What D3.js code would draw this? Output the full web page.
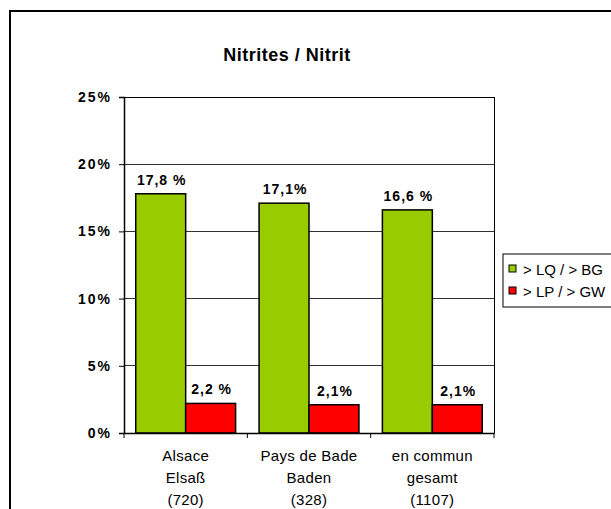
<!DOCTYPE html>
<html>
<head>
<meta charset="utf-8">
<script src="https://cdn.jsdelivr.net/npm/d3@7"></script>
<style>
  body { margin: 0; background: #fff; }
  svg { display: block; font-family: "Liberation Sans", Arial, sans-serif; }
</style>
</head>
<body>
<div id="chart"></div>
<script>
// chart data
const categories = ['Alsace', 'Pays de Bade', 'en commun'];
const categoryLines = [
  ['Alsace', 'Elsaß', '(720)'],
  ['Pays de Bade', 'Baden', '(328)'],
  ['en commun', 'gesamt', '(1107)']
];
const seriesNames = ['> LQ / > BG', '> LP / > GW'];
const seriesColors = ['#99cc00', '#ff0000'];
const lqValues = [17.8, 17.1, 16.6];
const lpValues = [2.2, 2.1, 2.1];
const labelsLq = ['17,8 %', '17,1%', '16,6 %'];
const labelsLp = ['2,2 %', '2,1%', '2,1%'];
const yTicks = [0, 5, 10, 15, 20, 25];

const W = 611, H = 509;
const plot = { left: 124, top: 97, right: 494, bottom: 433 };

const svg = d3.select('#chart').append('svg')
  .attr('width', W)
  .attr('height', H);

// outer frame (runs off the right/bottom edge)
svg.append('rect')
  .attr('x', 10).attr('y', 11)
  .attr('width', 700).attr('height', 600)
  .attr('fill', 'none')
  .attr('stroke', '#000')
  .attr('stroke-width', 2);

svg.append('text')
  .attr('x', 287).attr('y', 61)
  .attr('text-anchor', 'middle')
  .style('font-size', '18px')
  .style('font-weight', 'bold')
  .style('letter-spacing', '0.5px')
  .text('Nitrites / Nitrit');

const x = d3.scaleBand()
  .domain(categories)
  .range([plot.left, plot.right]);

const xSeries = d3.scaleBand()
  .domain([0, 1])
  .range([0, x.bandwidth()])
  .paddingOuter(0.235)
  .paddingInner(0);

const y = d3.scaleLinear()
  .domain([0, 25])
  .range([plot.bottom, plot.top]);

const g = svg.append('g');

// gridlines
g.selectAll('line.grid')
  .data(yTicks.filter(d => d > 0))
  .enter().append('line')
  .attr('x1', plot.left).attr('x2', plot.right)
  .attr('y1', d => y(d)).attr('y2', d => y(d))
  .attr('stroke', d => d === 25 ? '#000' : '#333')
  .attr('stroke-width', 1)
  .attr('shape-rendering', 'crispEdges');

// right border of plot
g.append('line')
  .attr('x1', plot.right).attr('x2', plot.right)
  .attr('y1', plot.top).attr('y2', plot.bottom)
  .attr('stroke', '#000')
  .attr('shape-rendering', 'crispEdges');

// bars
const series = [lqValues, lpValues];
const labels = [labelsLq, labelsLp];
series.forEach((vals, si) => {
  g.selectAll('rect.s' + si)
    .data(vals)
    .enter().append('rect')
    .attr('x', (d, i) => x(categories[i]) + xSeries(si))
    .attr('y', d => y(d))
    .attr('width', xSeries.bandwidth())
    .attr('height', d => y(0) - y(d))
    .attr('fill', seriesColors[si])
    .attr('stroke', '#000')
    .attr('stroke-width', 1.5);

  g.selectAll('text.l' + si)
    .data(vals)
    .enter().append('text')
    .attr('x', (d, i) => x(categories[i]) + xSeries(si) + xSeries.bandwidth() / 2 + 1)
    .attr('y', d => y(d) - 9)
    .attr('text-anchor', 'middle')
    .style('font-size', '14px')
    .style('font-weight', 'bold')
    .style('letter-spacing', '1px')
    .text((d, i) => labels[si][i]);
});

// y axis
const yAxis = svg.append('g')
  .attr('transform', `translate(${plot.left},0)`)
  .call(d3.axisLeft(y).tickValues(yTicks).tickSize(5).tickPadding(7).tickFormat(d => d + '%'));
yAxis.select('.domain').attr('stroke', '#000').attr('stroke-width', 1.5);
yAxis.selectAll('.tick line').attr('stroke', '#000');
yAxis.selectAll('.tick text')
  .attr('fill', '#000')
  .style('font-family', '"Liberation Sans", Arial, sans-serif')
  .style('font-size', '14px')
  .style('font-weight', 'bold')
  .style('letter-spacing', '2px');

// x axis
const xAxis = svg.append('g')
  .attr('transform', `translate(0,${plot.bottom})`)
  .call(d3.axisBottom(x).tickSize(0).tickFormat(''));
xAxis.select('.domain').attr('stroke', '#000').attr('stroke-width', 1.5);

// category separators below axis
svg.selectAll('line.xsep')
  .data([x(categories[0])].concat(categories.map(d => x(d) + x.bandwidth())))
  .enter().append('line')
  .attr('x1', d => d)
  .attr('x2', d => d)
  .attr('y1', plot.bottom)
  .attr('y2', plot.bottom + 5)
  .attr('stroke', '#000');

// multi-line category labels
categoryLines.forEach((lines, i) => {
  const t = svg.append('text')
    .attr('text-anchor', 'middle')
    .style('font-size', '15px')
    .style('letter-spacing', '0.3px');
  lines.forEach((ln, k) => {
    t.append('tspan')
      .attr('x', x(categories[i]) + x.bandwidth() / 2)
      .attr('y', 461 + k * 22)
      .text(ln);
  });
});

// legend
const legend = svg.append('g');
legend.append('rect')
  .attr('x', 503).attr('y', 254)
  .attr('width', 140).attr('height', 53)
  .attr('fill', '#fff')
  .attr('stroke', '#000');
seriesNames.forEach((name, i) => {
  legend.append('rect')
    .attr('x', 509).attr('y', 265 + i * 22)
    .attr('width', 7).attr('height', 7)
    .attr('fill', seriesColors[i])
    .attr('stroke', '#000');
  legend.append('text')
    .attr('x', 523).attr('y', 275 + i * 22)
    .style('font-size', '15px')
    .text(name);
});
</script>
</body>
</html>
